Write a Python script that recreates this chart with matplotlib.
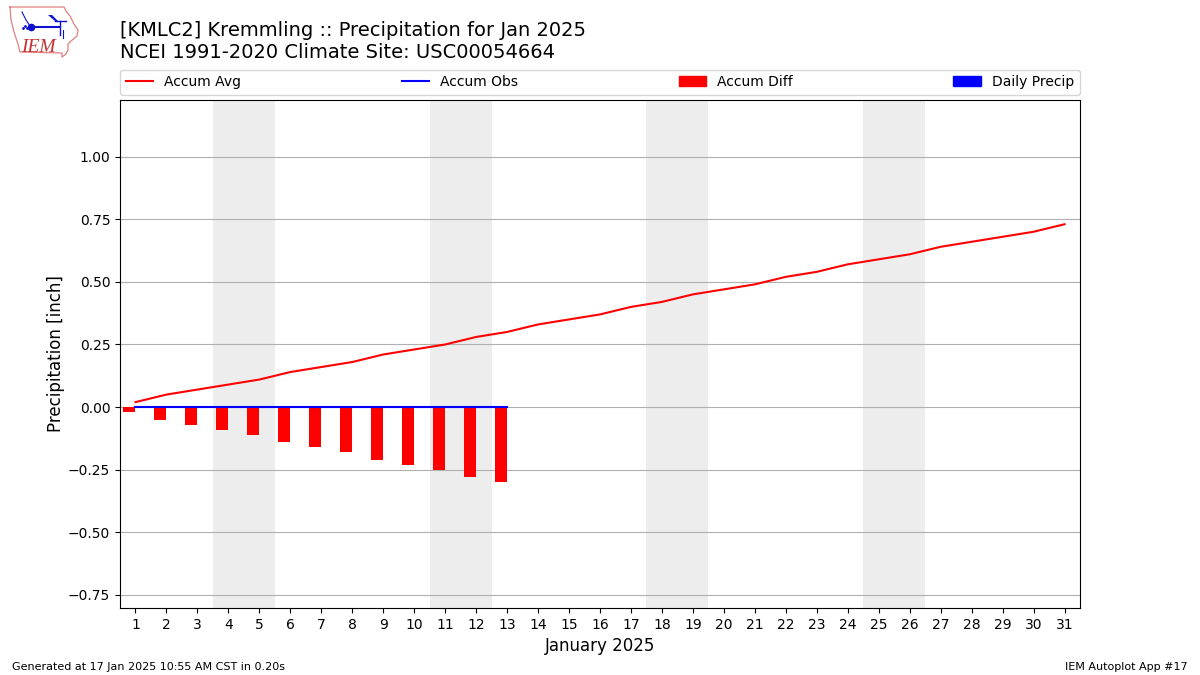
import matplotlib
matplotlib.use("Agg")
import matplotlib.pyplot as plt
from matplotlib.patches import Patch

days = list(range(1, 32))
accum_avg = [0.02, 0.05, 0.07, 0.09, 0.11, 0.14, 0.16, 0.18, 0.21, 0.23, 0.25,
             0.28, 0.30, 0.33, 0.35, 0.37, 0.40, 0.42, 0.45, 0.47, 0.49, 0.52,
             0.54, 0.57, 0.59, 0.61, 0.64, 0.66, 0.68, 0.70, 0.73]
obs_days = list(range(1, 14))
accum_obs = [0.0] * 13
accum_diff = [-0.02, -0.05, -0.07, -0.09, -0.11, -0.14, -0.16, -0.18, -0.21,
              -0.23, -0.25, -0.28, -0.30]
daily_precip = [0.0] * 13
weekends = [(3.5, 5.5), (10.5, 12.5), (17.5, 19.5), (24.5, 26.5)]
yticks = [-0.75, -0.50, -0.25, 0.0, 0.25, 0.50, 0.75, 1.00]

fig = plt.figure(figsize=(12, 6.75), dpi=100)
ax = fig.add_axes([120 / 1200, 1 - 608 / 675, 960 / 1200, 508 / 675])

for a, b in weekends:
    ax.axvspan(a, b, color="#ededed", lw=0, zorder=0)

ax.bar(obs_days, accum_diff, width=-0.4, align="edge", color="red", zorder=3)
ax.bar(obs_days, daily_precip, width=0.4, align="edge", color="blue", zorder=3)
ax.plot(days, accum_avg, color="red", lw=1.5, zorder=4)
ax.plot(obs_days, accum_obs, color="blue", lw=1.5, zorder=4)

ax.set_xlim(0.5, 31.5)
ax.set_ylim(-0.802, 1.226)
ax.set_xticks(days)
ax.set_yticks(yticks)
ax.yaxis.grid(True, color="#b0b0b0", lw=0.8, zorder=1)
ax.set_axisbelow(True)
ax.tick_params(labelsize=10)
ax.set_xlabel("January 2025", fontsize=12)
ax.set_ylabel("Precipitation [inch]", fontsize=12, labelpad=2)

handles = [plt.Line2D([], [], color="red", lw=1.5),
           plt.Line2D([], [], color="blue", lw=1.5),
           Patch(color="red"), Patch(color="blue")]
labels = ["Accum Avg", "Accum Obs", "Accum Diff", "Daily Precip"]
ax.legend(handles, labels, ncol=4, mode="expand", loc="lower left",
          bbox_to_anchor=(0, 1.0105, 1, 0.05), borderaxespad=0, fontsize=10)

fig.text(120 / 1200, 1 - 35.5 / 675, "[KMLC2] Kremmling :: Precipitation for Jan 2025",
         fontsize=14, va="baseline")
fig.text(120 / 1200, 1 - 57.5 / 675, "NCEI 1991-2020 Climate Site: USC00054664",
         fontsize=14, va="baseline")
fig.text(12 / 1200, 1 - 670 / 675, "Generated at 17 Jan 2025 10:55 AM CST in 0.20s", fontsize=8)
fig.text(1188 / 1200, 1 - 670 / 675, "IEM Autoplot App #17", fontsize=8, ha="right")

# Logo
logo = fig.add_axes([0, 1 - 60 / 675, 85 / 1200, 60 / 675])
logo.set_xlim(0, 85)
logo.set_ylim(60, 0)
logo.axis("off")
state_x = [10, 64, 66, 70, 74, 78, 77, 71, 68, 68, 66, 62, 62, 20, 18, 14, 11, 10]
state_y = [7, 7, 11, 16, 24, 30, 36, 41, 44, 50, 54, 57, 53, 52, 44, 32, 20, 7]
logo.plot(state_x, state_y, color="#e08080", lw=0.9)
logo.plot([31, 60], [27, 27], color="#1010d0", lw=1.5)
logo.plot([31], [27], "o", color="#1010d0", ms=4.5)
logo.fill([48, 52, 58, 55], [15, 15, 21, 21], color="#1010d0", lw=0)
logo.plot([55, 66], [21, 21], color="#1010d0", lw=1)
logo.plot([22, 26, 30], [12, 20, 26], color="#1010d0", lw=0.8)
logo.plot([60, 60], [21, 35], color="#1010d0", lw=1)
logo.plot([63, 63], [30, 38], color="#1010d0", lw=0.8)
logo.plot([23, 25, 27], [28, 26, 28], ".", color="#1010d0", ms=2)
logo.text(21, 52, "IEM", color="#c83030", family="Liberation Serif", style="italic",
          fontsize=14, va="baseline")

fig.savefig("out.png", dpi=100)
